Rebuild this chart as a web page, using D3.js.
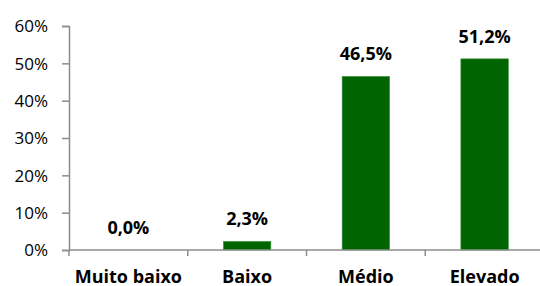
<!DOCTYPE html>
<html>
<head>
<meta charset="utf-8">
<script src="https://d3js.org/d3.v7.min.js"></script>
<style>
  body { margin: 0; background: #fff; }
  svg text { font-family: "Open Sans", sans-serif; }
</style>
</head>
<body>
<svg id="chart" width="540" height="286"></svg>
<script>
  var categories = ["Muito baixo", "Baixo", "Médio", "Elevado"]
  var values = [0.0, 2.3, 46.5, 51.2]
  var valueLabels = ["0,0%", "2,3%", "46,5%", "51,2%"]
  var yTicks = [0, 10, 20, 30, 40, 50, 60]

  var width = 540, height = 286
  var margin = { top: 26, right: -4, bottom: 36, left: 69 }

  var svg = d3.select("#chart")

  var x = d3.scaleBand()
    .domain(categories)
    .range([margin.left, width - margin.right])
    .paddingInner(0.6)
    .paddingOuter(0.3)

  var y = d3.scaleLinear()
    .domain([0, 60])
    .range([height - margin.bottom, margin.top])

  var axisColor = "#8c8c8c"

  // y axis
  var yAxis = svg.append("g")
    .attr("transform", `translate(${margin.left},0)`)
    .call(d3.axisLeft(y).tickValues(yTicks).tickSize(7).tickPadding(14).tickFormat(d => d + "%"))
  yAxis.select(".domain").attr("stroke", axisColor).attr("stroke-width", 1.5)
  yAxis.selectAll(".tick line").attr("stroke", axisColor).attr("stroke-width", 1.5)
  yAxis.selectAll(".tick text")
    .attr("fill", "#000")
    .style("font-size", "17px")
    .attr("dy", "0.35em")

  // bars
  svg.selectAll("rect.bar")
    .data(values)
    .join("rect")
    .attr("class", "bar")
    .attr("x", (d, i) => x(categories[i]))
    .attr("width", x.bandwidth())
    .attr("y", d => y(d))
    .attr("height", d => y(0) - y(d))
    .attr("fill", "#006400")
    .attr("stroke", "#3a9a3a")
    .attr("stroke-width", 0.6)

  // x axis line and boundary ticks
  var x0 = x.range()[0]
  svg.append("line")
    .attr("x1", x0).attr("x2", width)
    .attr("y1", y(0)).attr("y2", y(0))
    .attr("stroke", axisColor).attr("stroke-width", 1.5)

  svg.selectAll("line.xtick")
    .data(d3.range(categories.length + 1))
    .join("line")
    .attr("class", "xtick")
    .attr("x1", i => x0 + i * x.step())
    .attr("x2", i => x0 + i * x.step())
    .attr("y1", y(0))
    .attr("y2", y(0) + 6)
    .attr("stroke", axisColor).attr("stroke-width", 1.5)

  // category labels
  svg.selectAll("text.cat")
    .data(categories)
    .join("text")
    .attr("class", "cat")
    .attr("x", d => x(d) + x.bandwidth() / 2)
    .attr("y", 282.5)
    .attr("text-anchor", "middle")
    .style("font-size", "18px")
    .style("font-weight", "bold")
    .text(d => d)

  // value labels
  svg.selectAll("text.val")
    .data(values)
    .join("text")
    .attr("class", "val")
    .attr("x", (d, i) => x(categories[i]) + x.bandwidth() / 2)
    .attr("y", d => y(d) - 16)
    .attr("text-anchor", "middle")
    .style("font-size", "18px")
    .style("font-weight", "bold")
    .text((d, i) => valueLabels[i])
</script>
</body>
</html>
